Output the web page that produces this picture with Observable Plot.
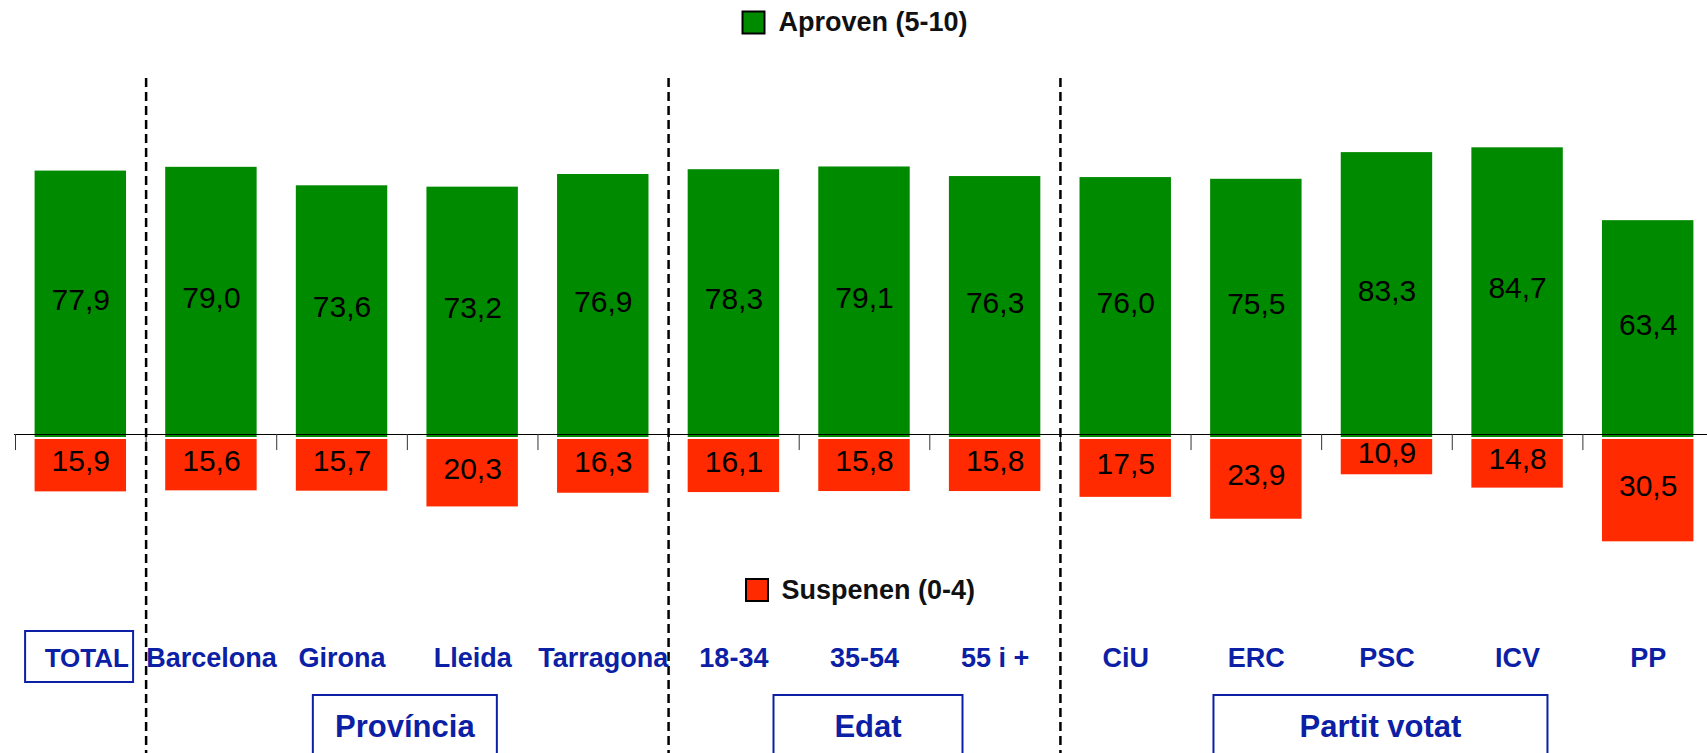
<!DOCTYPE html>
<html><head><meta charset="utf-8">
<script src="https://cdn.jsdelivr.net/npm/d3@7"></script>
<script src="https://cdn.jsdelivr.net/npm/@observablehq/plot@0.6"></script>
<style>
html,body{margin:0;padding:0;background:#fff;}
#chart svg{display:block;}
</style>
</head><body><div id="chart"></div>
<script>
// ---- data ----
const categories = ["TOTAL","Barcelona","Girona","Lleida","Tarragona","18-34","35-54","55 i +","CiU","ERC","PSC","ICV","PP"];
const aproven   = [77.9,79.0,73.6,73.2,76.9,78.3,79.1,76.3,76.0,75.5,83.3,84.7,63.4];
const suspenen  = [15.9,15.6,15.7,20.3,16.3,16.1,15.8,15.8,17.5,23.9,10.9,14.8,30.5];
const groupLabels = ["Província","Edat","Partit votat"];
const groupFirst  = ["Barcelona","18-34","CiU"];
const groupLast   = ["Tarragona","55 i +","PP"];
const dividers    = ["Barcelona","18-34","CiU"];
const legendLabels = ["Aproven (5-10)","Suspenen (0-4)"];
const totalLabel = "TOTAL";

// ---- style ----
const W = 1707, H = 753;
const GREEN = "#008a00", RED = "#ff2a00", BLUE = "#0b20a5";
const FONT = "'Liberation Sans', Arial, sans-serif";
const groupBoxW = [184, 189, 334];
const groupShift = [-2, 4, -6];

const rows = categories.map((c, i) => ({cat: c, apr: aproven[i], sus: suspenen[i]}));
const fmt = v => v.toFixed(1).replace(".", ",");
const step = 1698 / 13;

const boxes = (index, scales) => {
  const x = scales.x;
  const bw = x.bandwidth ? x.bandwidth() : 91;
  const g = d3.create("svg:g");
  // TOTAL box
  g.append("rect")
    .attr("x", x(totalLabel) - 9.5).attr("y", 631)
    .attr("width", 108).attr("height", 51)
    .attr("fill", "none").attr("stroke", BLUE).attr("stroke-width", 2);
  groupLabels.forEach((label, i) => {
    const cx = (x(groupFirst[i]) + x(groupLast[i]) + bw) / 2 + groupShift[i];
    const w = groupBoxW[i];
    g.append("rect")
      .attr("x", cx - w / 2).attr("y", 695)
      .attr("width", w).attr("height", 80)
      .attr("fill", "none").attr("stroke", BLUE).attr("stroke-width", 2);
    g.append("text")
      .attr("x", cx).attr("y", 726)
      .attr("text-anchor", "middle").attr("dy", "0.35em")
      .attr("font-family", FONT).attr("font-weight", "bold")
      .attr("font-size", 31).attr("fill", BLUE)
      .text(label);
  });
  return g.node();
};

const chart = Plot.plot({
  width: W, height: H,
  marginTop: 78, marginBottom: 0, marginLeft: 14, marginRight: 0,
  x: {domain: categories, range: [15, 1713], paddingInner: 0.3, paddingOuter: 0.15, round: false, axis: null},
  y: {domain: [0, 100], range: [437, 95], axis: null},
  style: {fontFamily: FONT, background: "#fff", overflow: "visible"},
  marks: [
    Plot.barY(rows, {x: "cat", y: "apr", fill: GREEN}),
    Plot.barY(rows, {x: "cat", y: d => -d.sus, fill: RED, insetTop: 2}),
    Plot.ruleY([0], {stroke: "#000", strokeWidth: 1, dy: -3}),
    Plot.ruleX(categories, {x: d => d, y1: 0, y2: -4.7, dx: -step / 2, dy: -3, stroke: "#333", strokeWidth: 1}),
    Plot.ruleX(dividers, {x: d => d, dx: -step / 2, stroke: "#000", strokeWidth: 2.5, strokeDasharray: "9,5"}),
    Plot.text(rows, {x: "cat", y: d => d.apr / 2, text: d => fmt(d.apr), fontSize: 30, fill: "#000", dy: -4, lineAnchor: "middle"}),
    Plot.text(rows, {x: "cat", y: d => -d.sus / 2, text: d => fmt(d.sus), fontSize: 30, fill: "#000", dy: -3, lineAnchor: "middle"}),
    Plot.text(categories.filter(c => c !== totalLabel), {x: d => d, frameAnchor: "bottom", lineAnchor: "middle", dy: -95, fontWeight: "bold", fontSize: 27, fill: BLUE}),
    Plot.text([totalLabel], {x: d => d, frameAnchor: "bottom", lineAnchor: "middle", dy: -95, dx: 6, fontWeight: "bold", fontSize: 26, fill: BLUE}),
    // legends
    Plot.dot([legendLabels[0]], {frameAnchor: "top", dx: -107.5, dy: -56, symbol: "square", r: 12.4, fill: GREEN, stroke: "#000", strokeWidth: 2}),
    Plot.text([legendLabels[0]], {text: d => d, frameAnchor: "top", lineAnchor: "middle", dx: -82.5, dy: -56, textAnchor: "start", fontWeight: "bold", fontSize: 27, fill: "#111"}),
    Plot.dot([legendLabels[1]], {frameAnchor: "top", dx: -104, dy: 511.5, symbol: "square", r: 12.4, fill: RED, stroke: "#000", strokeWidth: 2}),
    Plot.text([legendLabels[1]], {text: d => d, frameAnchor: "top", lineAnchor: "middle", dx: -79.5, dy: 512, textAnchor: "start", fontWeight: "bold", fontSize: 27, fill: "#111"}),
    boxes
  ]
});
document.getElementById("chart").appendChild(chart);
</script>
</body></html>
